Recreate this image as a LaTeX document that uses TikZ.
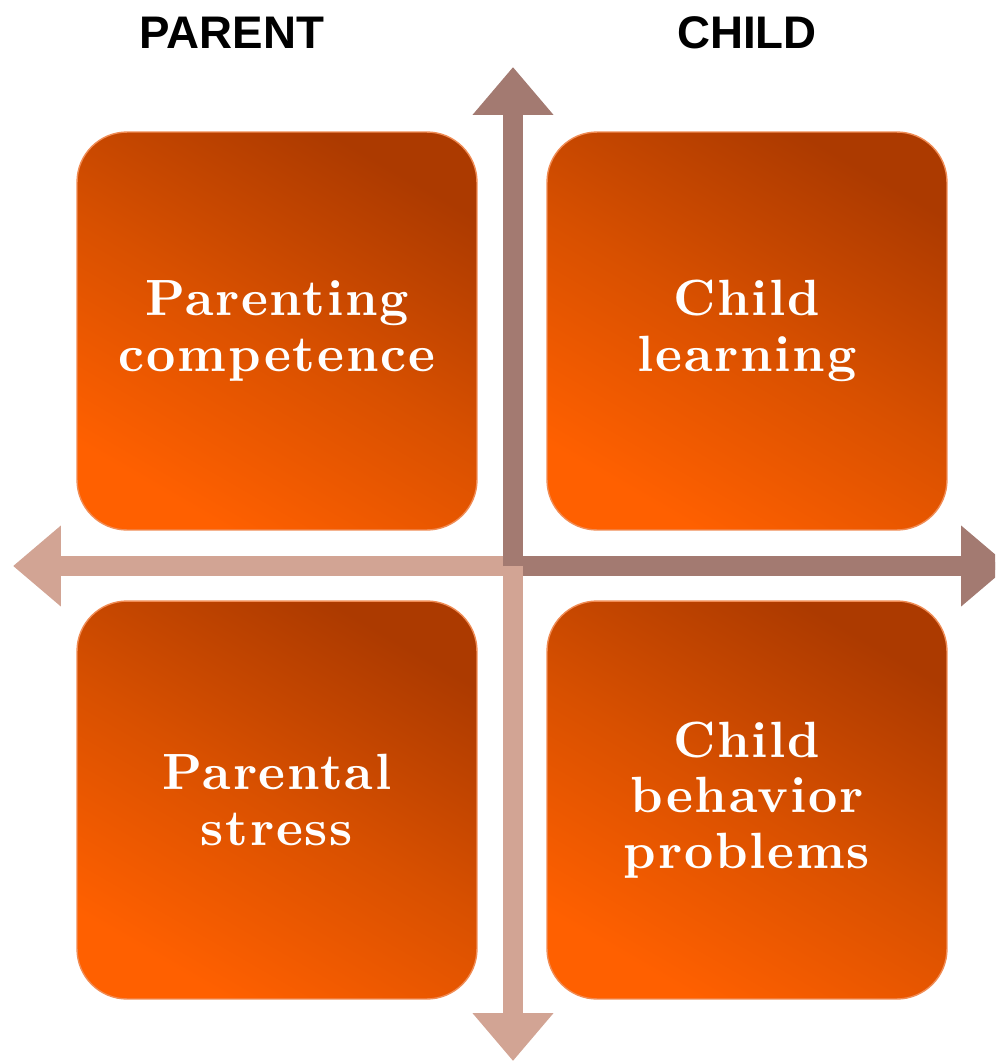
\documentclass[tikz,border=0pt]{standalone}
\usepackage{fontspec}
\setsansfont{Liberation Sans}
\newfontfamily\boxfont[LetterSpace=3.5,BoldFont=lmroman10-bold.otf]{lmroman10-regular.otf}
\usetikzlibrary{arrows.meta}
\definecolor{boxdark}{RGB}{172,58,0}
\definecolor{boxmid}{RGB}{216,80,0}
\definecolor{boxlight}{RGB}{255,96,0}
\definecolor{boxrim}{RGB}{240,140,85}
\definecolor{axisdark}{RGB}{163,122,113}
\definecolor{axislight}{RGB}{210,164,148}
\tikzset{> = {Triangle[length=0.96cm, width=1.56cm]},
	quad/.style={rounded corners=1cm, minimum width=8cm, minimum height=7.96cm,
		top color=boxdark, bottom color=boxlight, middle color=boxmid,
		shading angle=-30, draw=boxrim, line width=0.8pt,
		text=white, align=center,
		font=\boxfont\bfseries\fontsize{29}{31.5}\selectfont},
	axis/.style={line width=0.4cm, ->},
	head/.style={anchor=base, font=\sffamily\bfseries\fontsize{26}{30}\selectfont}}

\begin{document}
\begin{tikzpicture}[x=0.02cm, y=-0.02cm]
		\useasboundingbox (0,0) rectangle (995,1062);
		\clip (0,0) rectangle (995,1062);
		% headings
		\node[head] (parent) at (232,48) {PARENT};
		\node[head] (child) at (747,48) {CHILD};
		% the four boxes
		\node[quad] (pc) at (277,331) {Parenting\\competence};
		\node[quad] (cl) at (747,331) {Child\\learning};
		\node[quad] (ps) at (277,800) {Parental\\stress};
		\node[quad] (cb) at (747,800) {Child\\behavior\\problems};
		% axes
		\coordinate (o) at (513,566);
		\coordinate (n) at (513,67);
		\coordinate (s) at (513,1061);
		\coordinate (w) at (13,566);
		\coordinate (e) at (1009,566);
		\draw[axis, axislight] (o) -- (w);
		\draw[axis, axisdark] (o) -- (e);
		\draw[axis, axislight] (o) -- (s);
		\draw[axis, axisdark] (o) -- (n);
		\end{tikzpicture}
\end{document}
